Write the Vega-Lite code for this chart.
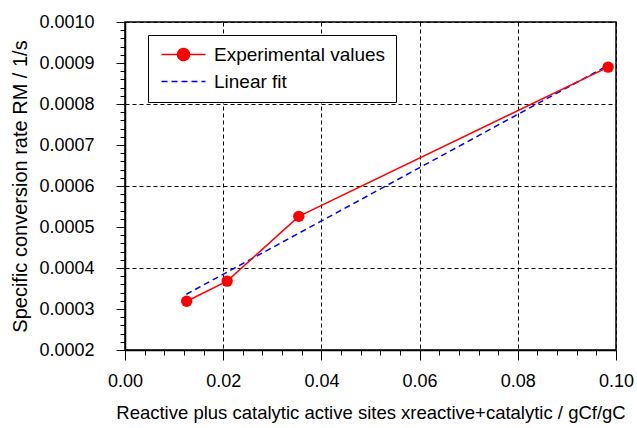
{
  "$schema": "https://vega.github.io/schema/vega-lite/v6.json",
  "autosize": "none",
  "width": 491,
  "height": 328,
  "padding": {"left": 125, "top": 22, "right": 21, "bottom": 78},
  "background": "white",
  "config": {
    "font": "Liberation Sans",
    "view": {"stroke": "black", "strokeWidth": 1.5},
    "axis": {
      "labelFont": "Liberation Sans",
      "titleFont": "Liberation Sans",
      "labelFontSize": 18,
      "titleFontSize": 20,
      "titleFontWeight": "normal",
      "labelColor": "black",
      "titleColor": "black",
      "domainColor": "black",
      "domainWidth": 1.5,
      "tickColor": "black",
      "tickWidth": 1,
      "gridColor": "black",
      "gridDash": [4, 3],
      "gridWidth": 1,
      "labelOverlap": false,
      "labelBound": false,
      "labelFlush": false
    }
  },
  "datasets": {
    "exp": [
      {"x": 0.01256, "y": 0.000319, "series": "Experimental values"},
      {"x": 0.0208, "y": 0.000368, "series": "Experimental values"},
      {"x": 0.0354, "y": 0.000526, "series": "Experimental values"},
      {"x": 0.0984, "y": 0.000890, "series": "Experimental values"}
    ],
    "fit": [
      {"x": 0.0125, "y": 0.000336, "series": "Linear fit"},
      {"x": 0.0985, "y": 0.000895, "series": "Linear fit"}
    ]
  },
  "encoding": {
    "x": {
      "field": "x",
      "type": "quantitative",
      "scale": {"domain": [0, 0.1], "nice": false, "zero": false},
      "axis": {
        "title": "Reactive plus catalytic active sites xreactive+catalytic / gCf/gC",
        "titleFontSize": 18.5,
        "format": ".2f",
        "values": [0, 0.004, 0.008, 0.012, 0.016, 0.02, 0.024, 0.028, 0.032, 0.036, 0.04, 0.044, 0.048, 0.052, 0.056, 0.06, 0.064, 0.068, 0.072, 0.076, 0.08, 0.084, 0.088, 0.092, 0.096, 0.1],
        "labelExpr": "round(datum.value*1000) % 20 === 0 ? datum.label : ''",
        "tickSize": {"condition": {"test": "round(datum.value*1000) % 20 === 0", "value": 10}, "value": 5},
        "grid": true,
        "gridOpacity": {"condition": {"test": "round(datum.value*1000) % 20 === 0", "value": 1}, "value": 0},
        "labelPadding": 12,
        "titlePadding": 13
      }
    },
    "y": {
      "field": "y",
      "type": "quantitative",
      "scale": {"domain": [0.0002, 0.001], "nice": false, "zero": false},
      "axis": {
        "title": "Specific conversion rate RM / 1/s",
        "format": ".4f",
        "values": [0.0002, 0.00022, 0.00024, 0.00026, 0.00028, 0.0003, 0.00032, 0.00034, 0.00036, 0.00038, 0.0004, 0.00042, 0.00044, 0.00046, 0.00048, 0.0005, 0.00052, 0.00054, 0.00056, 0.00058, 0.0006, 0.00062, 0.00064, 0.00066, 0.00068, 0.0007, 0.00072, 0.00074, 0.00076, 0.00078, 0.0008, 0.00082, 0.00084, 0.00086, 0.00088, 0.0009, 0.00092, 0.00094, 0.00096, 0.00098, 0.001],
        "labelExpr": "round(datum.value*100000) % 10 === 0 ? datum.label : ''",
        "tickSize": {"condition": {"test": "round(datum.value*100000) % 10 === 0", "value": 9}, "value": 5},
        "grid": true,
        "gridOpacity": {"condition": {"test": "round(datum.value*100000) % 20 === 0", "value": 1}, "value": 0},
        "labelPadding": 22,
        "titlePadding": 8
      }
    },
    "color": {
      "field": "series",
      "type": "nominal",
      "scale": {"domain": ["Experimental values", "Linear fit"], "range": ["#ff0000", "#0000ff"]},
      "legend": {
        "title": null,
        "orient": "none",
        "legendX": 23,
        "legendY": 13,
        "strokeColor": "black",
        "fillColor": "white",
        "padding": 10,
        "labelFont": "Liberation Sans",
        "labelFontSize": 19,
        "labelColor": "black",
        "labelLimit": 300,
        "symbolSize": 144,
        "symbolStrokeWidth": 1.5,
        "rowPadding": 7,
        "labelOffset": 37,
        "encoding": {
          "symbols": {
            "shape": {"value": {"expr": "datum.value === 'Linear fit' ? 'M-1,0H6.33' : 'M-1,0H6.33M1.67,0A1,1 0 1,1 3.67,0A1,1 0 1,1 1.67,0Z'"}},
            "strokeDash": {"value": {"expr": "datum.value === 'Linear fit' ? [6,4] : [1,0]"}},
            "fill": {"value": {"expr": "datum.value === 'Linear fit' ? 'transparent' : '#ff0000'"}},
            "stroke": {"value": {"expr": "datum.value === 'Linear fit' ? '#0000ff' : '#ff0000'"}},
            "strokeWidth": {"value": 1.5},
            "opacity": {"value": 1},
            "fillOpacity": {"value": 1},
            "strokeOpacity": {"value": 1}
          }
        }
      }
    }
  },
  "layer": [
    {
      "data": {"name": "fit"},
      "mark": {"type": "line", "strokeWidth": 1.5, "strokeDash": [6, 4]}
    },
    {
      "data": {"name": "exp"},
      "mark": {"type": "line", "strokeWidth": 1.5}
    },
    {
      "data": {"name": "exp"},
      "mark": {"type": "point", "filled": true, "size": 130, "opacity": 1}
    }
  ]
}
